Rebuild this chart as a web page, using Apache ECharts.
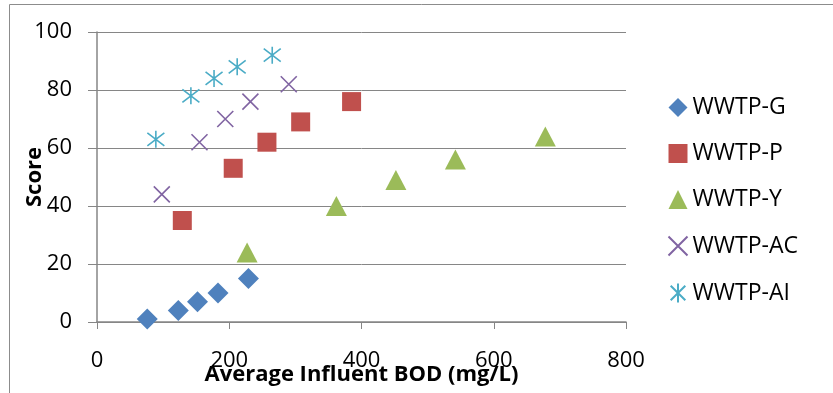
<!DOCTYPE html>
<html><head><meta charset="utf-8">
<script src="https://cdn.jsdelivr.net/npm/echarts@6/dist/echarts.min.js"></script>
<style>html,body{margin:0;padding:0;background:#fff}#c{width:833px;height:393px}</style>
</head><body><div id="c"></div>
<script>
const seriesNames = ['WWTP-G','WWTP-P','WWTP-Y','WWTP-AC','WWTP-AI'];
const gX  = [76, 123, 152, 183, 229];
const gY  = [1, 4, 7, 10, 15];
const pX  = [129, 206, 257, 308, 385];
const pY  = [35, 53, 62, 69, 76];
const yX  = [227, 362, 452, 542, 678];
const yY  = [24, 40, 49, 56, 64];
const acX = [98, 155, 194, 232, 290];
const acY = [44, 62, 70, 76, 82];
const aiX = [89, 142, 177, 212, 265];
const aiY = [63, 78, 84, 88, 92];
const xTicks = [0, 200, 400, 600, 800];
const yTicks = [0, 20, 40, 60, 80, 100];

const colors = ['#4F81BD','#C0504D','#9BBB59','#8064A2','#4BACC6'];
const FONT = 'Open Sans';
const pair = (xs, ys) => xs.map((x, i) => [x, ys[i]]);
const crossPath = 'path://M0,0L10,10M10,0L0,10';
const starPath = 'path://M0,0L10,10M10,0L0,10M5,-1.5L5,11.5';

const chart = echarts.init(document.getElementById('c'));
chart.setOption({
  animation: false,
  graphic: [{type:'rect', shape:{x:9.5,y:4.5,width:900,height:500}, style:{fill:'none', stroke:'#8c8c8c', lineWidth:1}, silent:true}],
  grid: {left: 97, right: 207, top: 32, bottom: 71, containLabel: false, outerBoundsMode: 'none'},
  xAxis: {
    type: 'value', min: xTicks[0], max: xTicks[xTicks.length-1], interval: 200,
    name: 'Average Influent BOD (mg/L)', nameLocation: 'middle', nameGap: 42, nameMoveOverlap: false,
    nameTextStyle: {fontFamily: FONT, fontWeight: 'bold', fontSize: 22, color: '#000'},
    axisLine: {show: true, onZero: false, lineStyle: {color: '#868686', width: 1.5}},
    axisTick: {show: true, length: 7, lineStyle: {color: '#868686', width: 1}},
    axisLabel: {fontFamily: FONT, fontSize: 22, color: '#000', margin: 28},
    splitLine: {show: false}
  },
  yAxis: {
    type: 'value', min: yTicks[0], max: yTicks[yTicks.length-1], interval: 20,
    name: 'Score', nameLocation: 'middle', nameGap: 51, nameMoveOverlap: false,
    nameTextStyle: {fontFamily: FONT, fontWeight: 'bold', fontSize: 22, color: '#000'},
    axisLine: {show: true, lineStyle: {color: '#868686', width: 1.5}},
    axisTick: {show: true, length: 9, lineStyle: {color: '#868686', width: 1}},
    axisLabel: {fontFamily: FONT, fontSize: 22, color: '#000', margin: 25},
    splitLine: {show: true, lineStyle: {color: '#868686', width: 1}}
  },
  legend: {
    orient: 'vertical', left: 661, top: 91, itemGap: 23, itemWidth: 19, itemHeight: 19,
    textStyle: {fontFamily: FONT, fontSize: 23, lineHeight: 23, color: '#000'},
    data: seriesNames
  },
  series: [
    {name: seriesNames[0], type: 'scatter', symbol: 'diamond', symbolSize: [21, 21], data: pair(gX, gY), itemStyle: {color: colors[0], opacity: 1}},
    {name: seriesNames[1], type: 'scatter', symbol: 'rect', symbolSize: 19, data: pair(pX, pY), itemStyle: {color: colors[1], opacity: 1}},
    {name: seriesNames[2], type: 'scatter', symbol: 'triangle', symbolSize: [21, 20], data: pair(yX, yY), itemStyle: {color: colors[2], opacity: 1}},
    {name: seriesNames[3], type: 'scatter', symbol: crossPath, symbolSize: 16, data: pair(acX, acY), itemStyle: {color: 'none', borderColor: colors[3], borderWidth: 1.6, opacity: 1}},
    {name: seriesNames[4], type: 'scatter', symbol: starPath, symbolSize: 17, data: pair(aiX, aiY), itemStyle: {color: 'none', borderColor: colors[4], borderWidth: 1.6, opacity: 1}}
  ]
});
</script></body></html>
